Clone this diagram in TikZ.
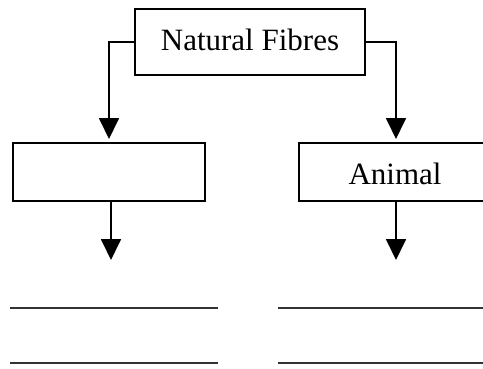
\documentclass[tikz,border=0pt]{standalone}
\usepackage{fontspec}
\setmainfont{Liberation Serif}
\usetikzlibrary{arrows.meta}
\begin{document}
\begin{tikzpicture}[x=1pt,y=-1pt,
  box/.style={draw=black, line width=1.6pt, inner sep=0pt, font=\fontsize{31}{36}\selectfont},
  conn/.style={line width=1.8pt, -{Triangle[width=20pt,length=21pt]}},
  blank/.style={line width=2.2pt, draw=black!80}]
\clip (0,0) rectangle (483,368);
\fill[white] (0,0) rectangle (483,368);
% boxes
\node[box, minimum width=230pt, minimum height=66pt, text height=20pt, text depth=4pt] (top) at (250,42) {Natural Fibres};
\node[box, minimum width=192pt, minimum height=58pt] (lbox) at (109,172) {};
\node[box, minimum width=192pt, minimum height=58pt, text height=26pt, text depth=1.4pt] (rbox) at (395,172) {Animal};
% arrow end coordinates
\coordinate (lt) at (109,139);
\coordinate (rt) at (396,139);
\coordinate (lb) at (111,260);
\coordinate (rb) at (396,260);
\draw[conn] (top.west) -| (lt);
\draw[conn] (top.east) -| (rt);
\draw[conn] (lbox.south -| lb) -- (lb);
\draw[conn] (rbox.south -| rb) -- (rb);
% blank answer lines
\coordinate (l1a) at (10,308); \coordinate (l1b) at (218,308);
\coordinate (r1a) at (278,308); \coordinate (r1b) at (490,308);
\coordinate (l2a) at (10,363); \coordinate (l2b) at (218,363);
\coordinate (r2a) at (278,363); \coordinate (r2b) at (490,363);
\draw[blank] (l1a) -- (l1b);
\draw[blank] (r1a) -- (r1b);
\draw[blank] (l2a) -- (l2b);
\draw[blank] (r2a) -- (r2b);
\end{tikzpicture}
\end{document}
